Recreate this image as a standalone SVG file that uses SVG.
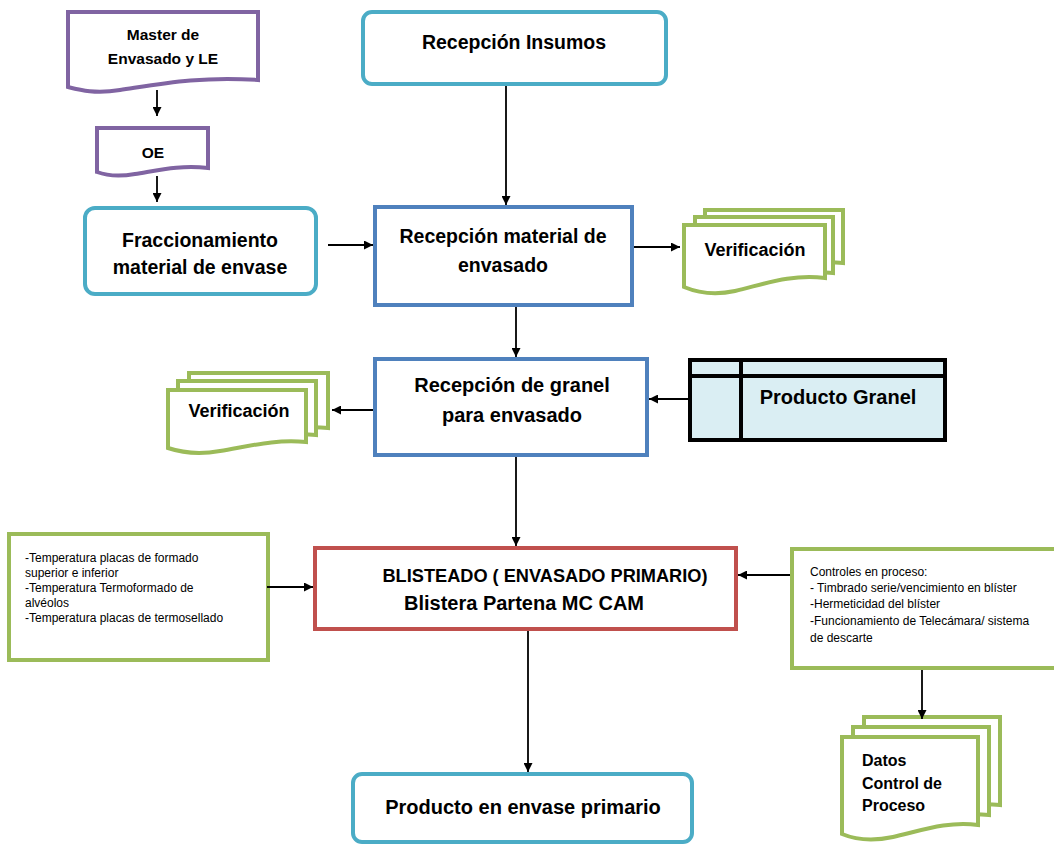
<svg xmlns="http://www.w3.org/2000/svg" width="1054" height="845" viewBox="0 0 1054 845">
<defs>
<style>
.t{font-family:"Liberation Sans",Arial,sans-serif;font-weight:bold;fill:#000;}
.s{font-family:"Liberation Sans",Arial,sans-serif;font-size:12px;fill:#000;}
.cyan{fill:#fff;stroke:#4BACC6;stroke-width:4;}
.blue{fill:#fff;stroke:#4F81BD;stroke-width:4;}
.red{fill:#fff;stroke:#C0504D;stroke-width:4;}
.green{fill:#fff;stroke:#9BBB59;stroke-width:4;}
.purple{fill:#fff;stroke:#8064A2;stroke-width:4;}
.conn line{stroke:#000;stroke-width:1.8;marker-end:url(#ah);}
</style>
<marker id="ah" viewBox="0 0 10 10" refX="10" refY="5" markerWidth="10" markerHeight="9" markerUnits="userSpaceOnUse" orient="auto">
<path d="M0,0 L10,5 L0,10 Z" fill="#000"/>
</marker>
</defs>
<rect width="1054" height="845" fill="#fff"/>

<g id="master">
<path class="purple" d="M68,12 H258 V80 C200,76 160,84 120,90 C95,94 80,90 68,87 Z"/>
<text class="t" font-size="15.5" x="163" y="40" text-anchor="middle">Master de</text>
<text class="t" font-size="15.5" x="163" y="64" text-anchor="middle">Envasado y LE</text>
</g>

<g id="oe">
<path class="purple" d="M97,128 H208 V168 C180,165 160,170 135,174 C118,177 105,175 97,172 Z"/>
<text class="t" font-size="15.5" x="153" y="158" text-anchor="middle">OE</text>
</g>

<g id="insumos">
<rect class="cyan" x="363" y="12" width="303" height="72" rx="9"/>
<text class="t" font-size="19.5" x="514" y="49" text-anchor="middle">Recepción Insumos</text>
</g>

<g id="fraccionamiento">
<rect class="cyan" x="85" y="208" width="231" height="86" rx="10"/>
<text class="t" font-size="19.5" x="200" y="247" text-anchor="middle">Fraccionamiento</text>
<text class="t" font-size="19.5" x="200" y="274" text-anchor="middle">material de envase</text>
</g>

<g id="recepcion-material">
<rect class="blue" x="375" y="207" width="257" height="98"/>
<text class="t" font-size="19.5" x="503" y="243" text-anchor="middle">Recepción material de</text>
<text class="t" font-size="19.5" x="503" y="272" text-anchor="middle">envasado</text>
</g>

<g id="verificacion-1">
<path class="green" d="M705,210 H843 V263 C815,260 790,266 760,272 C735,277 718,275 705,271 Z"/>
<path class="green" d="M695,217 H833 V273 C805,270 780,276 750,282 C725,287 708,285 695,281 Z"/>
<path class="green" d="M684,225 H825 V278 C790,274 765,284 735,291 C712,296 696,292 684,287 Z"/>
<text class="t" font-size="18" x="755" y="256" text-anchor="middle">Verificación</text>
</g>

<g id="recepcion-granel">
<rect class="blue" x="375" y="359" width="272" height="96"/>
<text class="t" font-size="20" x="512" y="392" text-anchor="middle">Recepción de granel</text>
<text class="t" font-size="20" x="512" y="422" text-anchor="middle">para envasado</text>
</g>

<g id="verificacion-2">
<path class="green" d="M189,373 H328 V428 C300,425 275,431 245,437 C220,442 202,440 189,436 Z"/>
<path class="green" d="M178,381 H316 V435 C288,432 263,438 233,444 C208,449 191,447 178,443 Z"/>
<path class="green" d="M168,390 H306 V442 C275,439 250,446 220,451 C197,455 180,452 168,448 Z"/>
<text class="t" font-size="18" x="239" y="417" text-anchor="middle">Verificación</text>
</g>

<g id="producto-granel">
<rect x="690" y="360" width="255" height="80" fill="#DAEEF3" stroke="#000" stroke-width="4"/>
<line x1="690" y1="376" x2="945" y2="376" stroke="#000" stroke-width="4"/>
<line x1="741" y1="360" x2="741" y2="440" stroke="#000" stroke-width="4"/>
<text class="t" font-size="20" x="838" y="404" text-anchor="middle">Producto Granel</text>
</g>

<g id="blisteado">
<rect class="red" x="315" y="548" width="421" height="81"/>
<text class="t" font-size="18.2" x="545" y="582" text-anchor="middle">BLISTEADO ( ENVASADO PRIMARIO)</text>
<text class="t" font-size="20" x="524" y="610" text-anchor="middle">Blistera Partena MC CAM</text>
</g>

<g id="parametros">
<rect class="green" x="9" y="534" width="259" height="126" stroke-width="3.5"/>
<text class="s" x="25" y="562">-Temperatura placas de formado</text>
<text class="s" x="25" y="577">superior e inferior</text>
<text class="s" x="25" y="592">-Temperatura Termoformado de</text>
<text class="s" x="25" y="607">alvéolos</text>
<text class="s" x="25" y="622">-Temperatura placas de termosellado</text>
</g>

<g id="controles">
<rect class="green" x="792" y="549" width="270" height="119" stroke-width="3.5"/>
<text class="s" x="810" y="576">Controles en proceso:</text>
<text class="s" x="810" y="592">- Timbrado serie/vencimiento en blíster</text>
<text class="s" x="810" y="608">-Hermeticidad del blíster</text>
<text class="s" x="810" y="625">-Funcionamiento de Telecámara/ sistema</text>
<text class="s" x="810" y="642">de descarte</text>
</g>

<g id="datos">
<path class="green" d="M864,717 H1000 V805 C972,802 948,808 918,814 C893,819 876,817 864,813 Z"/>
<path class="green" d="M853,727 H989 V815 C961,812 937,818 907,824 C882,829 865,827 853,823 Z"/>
<path class="green" d="M842,737 H978 V825 C948,821 923,830 893,837 C870,842 854,839 842,834 Z"/>
<text class="t" font-size="16" x="862" y="766">Datos</text>
<text class="t" font-size="16" x="862" y="789">Control de</text>
<text class="t" font-size="16" x="862" y="811">Proceso</text>
</g>

<g id="producto-envase">
<rect class="cyan" x="353" y="774" width="339" height="68" rx="9"/>
<text class="t" font-size="20" x="523" y="814" text-anchor="middle">Producto en envase primario</text>
</g>

<g class="conn" id="connectors">
<line x1="157" y1="90" x2="157" y2="116"/>
<line x1="157" y1="176" x2="157" y2="202"/>
<line x1="506" y1="86" x2="506" y2="205"/>
<line x1="328" y1="245" x2="373" y2="245"/>
<line x1="634" y1="247" x2="680" y2="247"/>
<line x1="516" y1="307" x2="516" y2="357"/>
<line x1="373" y1="410" x2="332" y2="410"/>
<line x1="688" y1="399" x2="649" y2="399"/>
<line x1="516" y1="457" x2="516" y2="546"/>
<line x1="267" y1="587" x2="313" y2="587"/>
<line x1="790" y1="575" x2="738" y2="575"/>
<line x1="922" y1="670" x2="922" y2="719"/>
<line x1="528" y1="631" x2="528" y2="772"/>
</g>
</svg>
